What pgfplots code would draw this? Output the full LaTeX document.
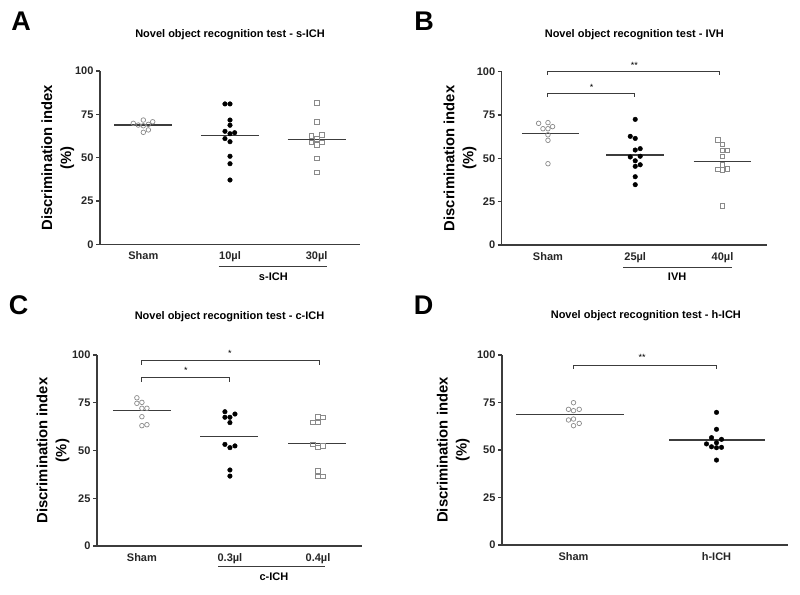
\documentclass[border=0pt]{standalone}
\usepackage{fontspec}
\setmainfont{Liberation Sans}
\usepackage{pgfplots}
\pgfplotsset{compat=1.18}

\definecolor{ptgray}{HTML}{8A8A8A}
\definecolor{lngray}{HTML}{3C3C3C}

\pgfplotsset{
  dotplot/.style={
    scale only axis,
    axis lines*=left,
    axis line style={line width=1.1pt, lngray},
    ymin=0, ymax=100, ytick={0,25,50,75,100},
    tick align=outside, major tick length=4pt,
    ytick style={line width=1.1pt, lngray},
    xtick style={draw=none},
    clip=false,
    /pgf/number format/assume math mode=true,
    tick label style={font=\bfseries\fontsize{11}{13}\selectfont, text=black!85},
    yticklabel style={xshift=1pt},
    title style={font=\bfseries\fontsize{11}{13}\selectfont, anchor=center, yshift=0pt},
    ylabel={Discrimination index\\(\%)},
    ylabel style={font=\bfseries\fontsize{14.8}{19}\selectfont, align=center, anchor=center},
  },
  opencirc/.style={only marks, mark=o, mark size=2.3pt, mark options={ptgray, line width=0.7pt}},
  fillcirc/.style={only marks, mark=*, mark size=2.3pt, mark options={black}},
  opensq/.style={only marks, mark=square, mark size=2.2pt, mark options={ptgray, line width=0.7pt}},
  medline/.style={no marks, line width=1.3pt, lngray},
  bracket/.style={no marks, line width=1pt, lngray},
}

\begin{document}
\begin{tikzpicture}[x=1pt,y=1pt]
\path[use as bounding box] (0,0) rectangle (800,594);

\node[font=\bfseries\fontsize{27}{29}\selectfont] at (21,572.3) {A};
\node[font=\bfseries\fontsize{27}{29}\selectfont] at (424,572.3) {B};
\node[font=\bfseries\fontsize{27}{29}\selectfont] at (18.5,289) {C};
\node[font=\bfseries\fontsize{27}{29}\selectfont] at (423.5,289) {D};

% ---------- A ----------
\begin{axis}[dotplot, at={(100pt,349.7pt)}, anchor=south west,
  width=260pt, height=173.3pt, xmin=-0.5, xmax=2.5,
  xtick={0,1,2}, xticklabels={Sham,10µl,30µl},
  title={Novel object recognition test - s-ICH},
  title style={at={(axis description cs:0.5,1.174)}},
  ylabel style={at={(axis description cs:-0.162,0.5)}}]
\addplot[opencirc] coordinates {(-0.116,69.8) (-0.058,68.8) (0,71.7) (0,68.4) (0.058,69.2) (0.108,70.7) (0,64.6) (0.058,66.0)};
\addplot[fillcirc] coordinates {(0.942,81.0) (1,81.0) (1,71.7) (1,68.7) (0.942,65.2) (1.054,64.4) (1,63.8) (0.942,61.0) (1,59.2) (1,50.8) (1,46.5) (1,37.1)};
\addplot[opensq] coordinates {(2,81.7) (2,70.7) (2.058,63.1) (1.942,62.5) (2,60.8) (1.942,58.8) (2.058,58.8) (2,57.3) (2,49.6) (2,41.5)};
\addplot[medline] coordinates {(-0.335,68.8) (0.335,68.8)};
\addplot[medline] coordinates {(0.665,62.7) (1.335,62.7)};
\addplot[medline] coordinates {(1.665,60.6) (2.335,60.6)};
\draw[line width=1pt, lngray] (axis cs:0.87,-12.9) -- (axis cs:2.12,-12.9);
\node[font=\bfseries\fontsize{11}{13}\selectfont] at (axis cs:1.5,-18.6) {s-ICH};
\end{axis}

% ---------- B ----------
\begin{axis}[dotplot, at={(501.7pt,349pt)}, anchor=south west,
  width=265.3pt, height=173.3pt, xmin=-0.53, xmax=2.51,
  xtick={0,1,2}, xticklabels={Sham,25µl,40µl},
  title={Novel object recognition test - IVH},
  title style={at={(axis description cs:0.5,1.177)}},
  ylabel style={at={(axis description cs:-0.157,0.5)}}]
\addplot[opencirc] coordinates {(-0.107,70.2) (0,70.6) (-0.057,67.1) (0,67.1) (0.053,68.3) (0,63.6) (0,60.4) (0,46.9)};
\addplot[fillcirc] coordinates {(1,72.5) (0.943,62.7) (1,61.5) (1.057,55.6) (1,54.8) (1.057,51.2) (0.943,50.8) (1,48.6) (1.057,46.3) (1,45.4) (1,39.4) (1,34.8)};
\addplot[opensq] coordinates {(1.947,60.6) (2,58.1) (2,54.6) (2.057,54.6) (2,51.0) (2,46.2) (2.057,44.0) (1.947,43.7) (2,43.3) (2,22.7)};
\addplot[medline] coordinates {(-0.30,64.4) (0.36,64.4)};
\addplot[medline] coordinates {(0.67,51.9) (1.33,51.9)};
\addplot[medline] coordinates {(1.67,48.1) (2.33,48.1)};
\addplot[bracket] coordinates {(0,98.2) (0,100.2) (1.97,100.2) (1.97,98.2)};
\addplot[bracket] coordinates {(0,85.3) (0,87.3) (0.99,87.3) (0.99,85.3)};
\node[font=\fontsize{9}{11}\selectfont] at (axis cs:0.99,103.8) {**};
\node[font=\fontsize{9}{11}\selectfont] at (axis cs:0.5,91) {*};
\draw[line width=1pt, lngray] (axis cs:0.86,-12.7) -- (axis cs:2.11,-12.7);
\node[font=\bfseries\fontsize{11}{13}\selectfont] at (axis cs:1.48,-18.2) {IVH};
\end{axis}

% ---------- C ----------
\begin{axis}[dotplot, at={(97pt,48pt)}, anchor=south west,
  width=265pt, height=191pt, xmin=-0.51, xmax=2.5,
  xtick={0,1,2}, xticklabels={Sham,0.3µl,0.4µl},
  title={Novel object recognition test - c-ICH},
  title style={at={(axis description cs:0.5,1.168)}},
  ylabel style={at={(axis description cs:-0.166,0.5)}}]
\addplot[opencirc] coordinates {(-0.057,77.6) (0,75.2) (-0.057,74.7) (0,72.1) (0.057,72.1) (0,67.7) (0.057,63.5) (0,63.0)};
\addplot[fillcirc] coordinates {(0.943,70.3) (1.057,69.1) (0.943,67.4) (1,67.4) (1,64.6) (0.943,53.2) (1.057,52.4) (1,51.5) (1,39.8) (1,36.6)};
\addplot[opensq] coordinates {(2,67.7) (2.053,67.2) (1.943,64.6) (2,64.6) (1.943,53.2) (2.053,52.4) (2,51.7) (2,39.4) (2,36.6) (2.053,36.6)};
\addplot[medline] coordinates {(-0.33,70.8) (0.33,70.8)};
\addplot[medline] coordinates {(0.66,57.2) (1.32,57.2)};
\addplot[medline] coordinates {(1.66,53.6) (2.32,53.6)};
\addplot[bracket] coordinates {(0,95) (0,97) (2.02,97) (2.02,95)};
\addplot[bracket] coordinates {(0,86.1) (0,88.1) (1.0,88.1) (1.0,86.1)};
\node[font=\fontsize{9}{11}\selectfont] at (axis cs:1.0,100.8) {*};
\node[font=\fontsize{9}{11}\selectfont] at (axis cs:0.5,91.8) {*};
\draw[line width=1pt, lngray] (axis cs:0.87,-10.8) -- (axis cs:2.08,-10.8);
\node[font=\bfseries\fontsize{11}{13}\selectfont] at (axis cs:1.5,-16.2) {c-ICH};
\end{axis}

% ---------- D ----------
\begin{axis}[dotplot, at={(502pt,49pt)}, anchor=south west,
  width=286pt, height=190pt, xmin=-0.5, xmax=1.5,
  xtick={0,1}, xticklabels={Sham,h-ICH},
  title={Novel object recognition test - h-ICH},
  title style={at={(axis description cs:0.503,1.174)}},
  ylabel style={at={(axis description cs:-0.17,0.5)}}]
\addplot[opencirc] coordinates {(0,74.9) (-0.035,71.4) (0.04,71.4) (0,70.7) (0,66.3) (-0.035,65.8) (0.04,64.0) (0,62.8)};
\addplot[fillcirc] coordinates {(1,69.8) (1,60.9) (0.965,56.5) (1.035,55.6) (1,53.8) (0.93,53.2) (0.965,51.7) (1,51.2) (1.035,51.4) (1,44.7)};
\addplot[medline] coordinates {(-0.4,68.6) (0.35,68.6)};
\addplot[medline] coordinates {(0.67,55.3) (1.34,55.3)};
\addplot[bracket] coordinates {(0,92.7) (0,94.7) (1.0,94.7) (1.0,92.7)};
\node[font=\fontsize{9}{11}\selectfont] at (axis cs:0.48,98.6) {**};
\end{axis}
\end{tikzpicture}
\end{document}
